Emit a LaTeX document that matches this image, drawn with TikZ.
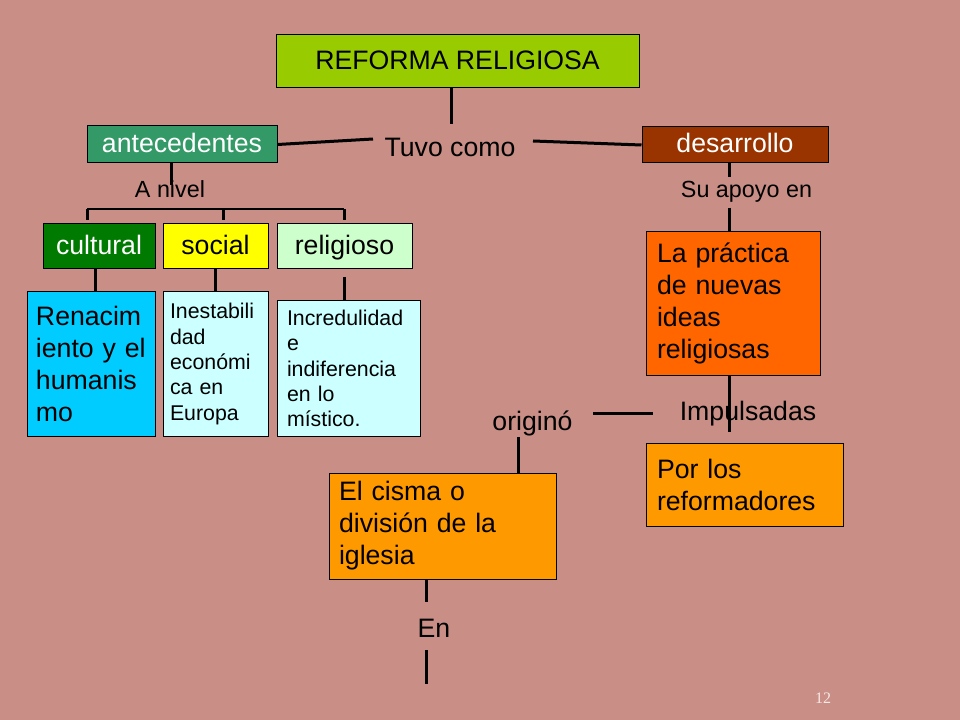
\documentclass[tikz,border=0pt]{standalone}
\usepackage{fontspec}
\setmainfont{Liberation Sans}
\newfontfamily\pagenumfont{Liberation Serif}
\definecolor{bgcol}{RGB}{201,142,133}
\definecolor{refc}{HTML}{99CC00}
\definecolor{antc}{HTML}{339966}
\definecolor{desc}{HTML}{993300}
\definecolor{culc}{HTML}{007A00}
\definecolor{socc}{HTML}{FFFF00}
\definecolor{relc}{HTML}{CCFFCC}
\definecolor{renc}{HTML}{00CCFF}
\definecolor{palec}{HTML}{CCFFFF}
\definecolor{prac}{HTML}{FF6600}
\definecolor{orc}{HTML}{FF9900}
\definecolor{numc}{RGB}{245,232,230}
\begin{document}
\begin{tikzpicture}[x=0.75pt,y=-0.75pt,
  bx/.style={draw=black, line width=0.75pt, inner sep=0pt, anchor=center},
  bigt/.style={font=\fontsize{20}{24}\selectfont, text height=14.4pt, text depth=3pt},
  multit/.style={font=\fontsize{20}{24}\selectfont, align=left},
  smallt/.style={font=\fontsize{16}{19}\selectfont, align=left},
  lbl/.style={font=\fontsize{20}{24}\selectfont, inner sep=0pt, anchor=base},
  slbl/.style={font=\fontsize{17.5}{20}\selectfont, inner sep=0pt, anchor=base},
  conn/.style={line width=2.25pt, black},
  thinconn/.style={line width=1.1pt, black}]
\fill[bgcol] (0,0) rectangle (960,720);
\useasboundingbox (0,0) rectangle (960,720);

% boxes
\node[bx, bigt, fill=refc, minimum width=272.25pt, minimum height=39.75pt] (ref) at (457.5,61.5) {REFORMA RELIGIOSA};
\node[bx, bigt, fill=antc, text=white, minimum width=142.5pt, minimum height=27.75pt] (ant) at (182,144.5) {antecedentes};
\node[bx, bigt, fill=desc, text=white, minimum width=139.5pt, minimum height=27pt] (des) at (735,145) {desarrollo};
\node[bx, bigt, fill=culc, text=white, minimum width=84pt, minimum height=33.75pt] (cul) at (99,246.5) {cultural};
\node[bx, bigt, fill=socc, minimum width=78.75pt, minimum height=33.75pt] (soc) at (215.5,246.5) {social};
\node[bx, bigt, fill=relc, minimum width=101.25pt, minimum height=33.75pt] (rel) at (344.5,246.5) {religioso};

\node[bx, multit, fill=renc, inner xsep=6.75pt, text width=82.5pt, minimum height=108pt] (ren) at (91,364) {Renacim\\iento y el\\humanis\\mo};
\node[bx, smallt, fill=palec, inner xsep=5.25pt, text width=68.25pt, minimum height=108pt] (ine) at (215.5,364) {Inestabili\\dad\\económi\\ca en\\Europa};
\node[bx, smallt, fill=palec, inner xsep=7.5pt, text width=92.25pt, minimum height=101.25pt] (inc) at (348.5,368.5) {Incredulidad\\e\\indiferencia\\en lo\\místico.};
\node[bx, multit, fill=prac, inner xsep=8.25pt, text width=114pt, minimum height=107.25pt] (pra) at (733,303.5) {La práctica\\de nuevas\\ideas\\religiosas};
\node[bx, multit, fill=orc, inner xsep=8.25pt, text width=131.25pt, minimum height=62.25pt] (por) at (744.5,484.5) {Por los\\reformadores};
\node[bx, multit, fill=orc, inner xsep=7.5pt, text width=155.25pt, minimum height=79.5pt] (cis) at (442.5,526) {El cisma o\\división de la\\iglesia};

% labels
\node[lbl] (tuvo) at (450,157) {Tuvo como};
\node[slbl] (anivel) at (170,198) {A nivel};
\node[slbl] (apoyo) at (746.5,198) {Su apoyo en};
\node[lbl] (impul) at (748,420) {Impulsadas};
\node[lbl] (orig) at (532.5,430) {originó};
\node[lbl] (en) at (434,637) {En};
\node[font=\pagenumfont\fontsize{12}{13}\selectfont, text=numc, inner sep=0pt, anchor=base] (pn) at (823,703) {12};

% connector coordinates
\coordinate (t1) at (451,124);
\coordinate (t2) at (373,139);
\coordinate (t3) at (533,141);
\coordinate (a1) at (171,185);
\coordinate (bL) at (87,209);
\coordinate (bM) at (223,209);
\coordinate (bR) at (344,209);
\coordinate (bLd) at (87,220);
\coordinate (bMd) at (223,220);
\coordinate (bRd) at (344,220);
\coordinate (r1) at (95,0);
\coordinate (r2) at (215,0);
\coordinate (r3) at (344,277);
\coordinate (d1) at (729,177);
\coordinate (d2) at (729,208);
\coordinate (p1) at (729,432);
\coordinate (h1) at (593,413);
\coordinate (h2) at (653,413);
\coordinate (o1) at (518,437);
\coordinate (e1) at (426,602);
\coordinate (e2) at (426,650);
\coordinate (e3) at (426,684);

% connectors
\draw[conn] (ref.south -| t1) -- (t1);
\draw[conn] (ant.east) -- (t2);
\draw[conn] (t3) -- (des.west);
\draw[conn] (ant.south -| a1) -- (a1);
\draw[thinconn] (bL) -- (bR);
\draw[conn] (bL) -- (bLd);
\draw[conn] (bM) -- (bMd);
\draw[conn] (bR) -- (bRd);
\draw[conn] (cul.south -| r1) -- (ren.north -| r1);
\draw[conn] (soc.south -| r2) -- (ine.north -| r2);
\draw[conn] (r3) -- (inc.north -| r3);
\draw[conn] (des.south -| d1) -- (d1);
\draw[conn] (d2) -- (pra.north -| d2);
\draw[conn] (pra.south -| p1) -- (p1);
\draw[conn] (h1) -- (h2);
\draw[conn] (o1) -- (cis.north -| o1);
\draw[conn] (cis.south -| e1) -- (e1);
\draw[conn] (e2) -- (e3);
\end{tikzpicture}
\end{document}
